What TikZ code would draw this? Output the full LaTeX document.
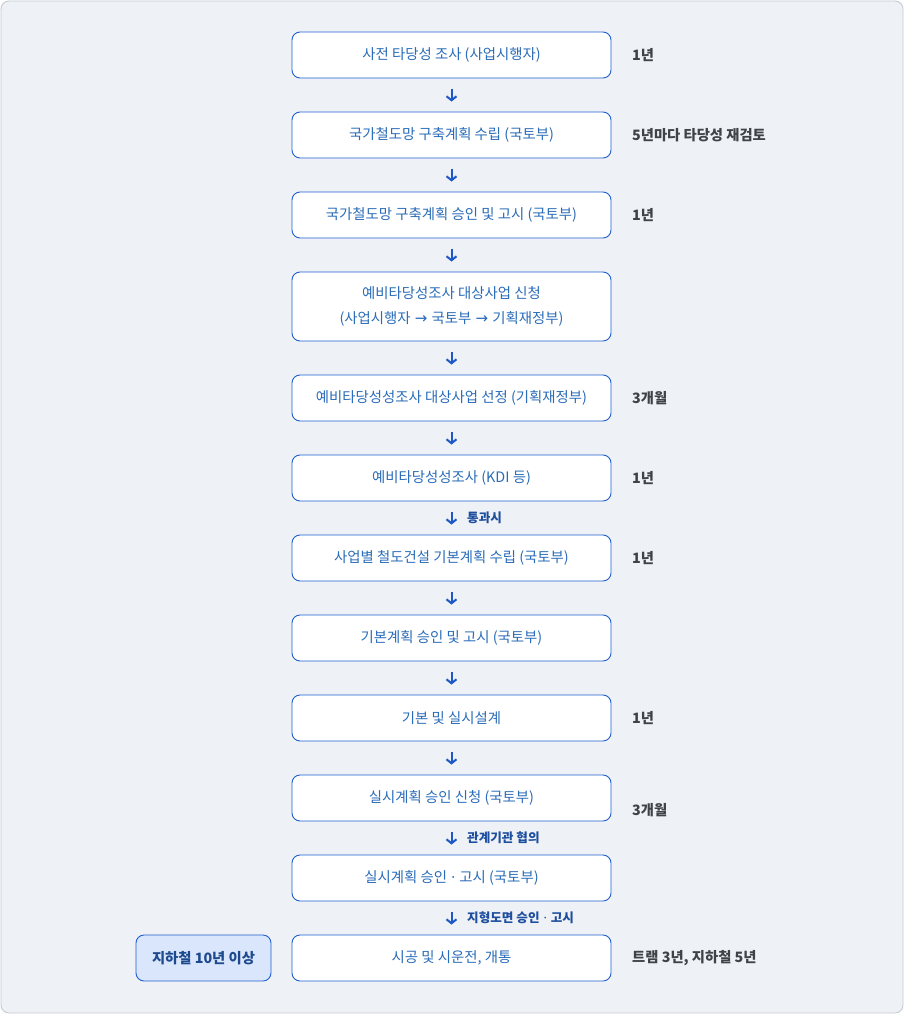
\documentclass[tikz,border=0pt]{standalone}
\usepackage{fontspec}
\setmainfont{Noto Sans CJK KR}
\newfontfamily\latinf{Noto Sans}
\newfontfamily\symf{DejaVu Sans}
\usetikzlibrary{arrows.meta,positioning}
\definecolor{bgc}{HTML}{EEF1F6}
\definecolor{frame}{HTML}{C6CAD1}
\definecolor{boxline}{HTML}{1F5FD0}
\definecolor{boxtext}{HTML}{2A6CB8}
\definecolor{side}{HTML}{3F4246}
\definecolor{arrc}{HTML}{1D58C8}
\definecolor{lbl}{HTML}{1E4E9E}
\definecolor{hifill}{HTML}{DAE6FC}
\definecolor{hitext}{HTML}{1D4A8E}
\newcommand{\mdot}{\hspace{1pt}{\latinf\char"00B7}\hspace{1pt}}
\newcommand{\rarr}{\hspace{1pt}{\symf\fontsize{15}{14}\selectfont\char"2192}\hspace{1pt}}
\tikzset{
  stepbox/.style={draw=boxline,fill=white,line width=0.9pt,rounded corners=8pt,
    minimum width=319pt,minimum height=46pt,inner sep=0pt,align=center,
    text=boxtext,font=\fontsize{14.4}{25}\selectfont},
  sidelbl/.style={anchor=west,text=side,font=\fontsize{14.3}{16}\selectfont\bfseries,inner sep=0pt},
  arrlbl/.style={anchor=west,text=lbl,font=\fontsize{12.6}{14}\selectfont\bfseries,inner sep=0pt},
  arr/.style={draw=arrc,line width=2pt,-{Straight Barb[length=4pt,width=10pt,line width=2pt]}},
}
\begin{document}
\begin{tikzpicture}[x=1pt,y=-1pt]
\useasboundingbox (0,0) rectangle (904,1014);
\draw[frame,fill=bgc,line width=0.9pt,rounded corners=8pt] (1,1) rectangle (903,1013);
\node[stepbox] (b1) at (451.5,55) {사전 타당성 조사 (사업시행자)};
\node[stepbox] (b2) at (451.5,135) {국가철도망 구축계획 수립 (국토부)};
\node[stepbox] (b3) at (451.5,215) {국가철도망 구축계획 승인 및 고시 (국토부)};
\node[stepbox,minimum height=69pt] (b4) at (451.5,306.5) {예비타당성조사 대상사업 신청\\(사업시행자 \rarr{} 국토부 \rarr{} 기획재정부)};
\node[stepbox] (b5) at (451.5,398) {예비타당성성조사 대상사업 선정 (기획재정부)};
\node[stepbox] (b6) at (451.5,478) {예비타당성성조사 (KDI 등)};
\node[stepbox] (b7) at (451.5,558) {사업별 철도건설 기본계획 수립 (국토부)};
\node[stepbox] (b8) at (451.5,638) {기본계획 승인 및 고시 (국토부)};
\node[stepbox] (b9) at (451.5,718) {기본 및 실시설계};
\node[stepbox] (b10) at (451.5,798) {실시계획 승인 신청 (국토부)};
\node[stepbox] (b11) at (451.5,878) {실시계획 승인 \mdot{} 고시 (국토부)};
\node[stepbox] (b12) at (451.5,958) {시공 및 시운전, 개통};
\node[draw=boxline,fill=hifill,line width=0.9pt,rounded corners=8pt,minimum width=135pt,
  minimum height=46pt,inner sep=0pt,text=hitext,font=\fontsize{14.3}{16}\selectfont\bfseries]
  (sub) at (203.5,958) {지하철 10년 이상};
\foreach \a/\b in {b1/b2,b2/b3,b3/b4,b4/b5,b5/b6,b6/b7,b7/b8,b8/b9,b9/b10,b10/b11,b11/b12}
  \draw[arr] ([yshift=-11pt]\a.south) -- ([yshift=10pt]\b.north);
\node[arrlbl] (l1) at (467,518) {통과시};
\node[arrlbl] (l2) at (467,838) {관계기관 협의};
\node[arrlbl] (l3) at (467,917.5) {지형도면 승인 \mdot{} 고시};
\node[sidelbl] (s1) at (632,55) {1년};
\node[sidelbl] (s2) at (632,135) {5년마다 타당성 재검토};
\node[sidelbl] (s3) at (632,215) {1년};
\node[sidelbl] (s5) at (632,398) {3개월};
\node[sidelbl] (s6) at (632,478) {1년};
\node[sidelbl] (s7) at (632,558) {1년};
\node[sidelbl] (s9) at (632,718) {1년};
\node[sidelbl] (s10) at (632,810) {3개월};
\node[sidelbl] (s12) at (632,958) {트램 3년, 지하철 5년};
\end{tikzpicture}
\end{document}
